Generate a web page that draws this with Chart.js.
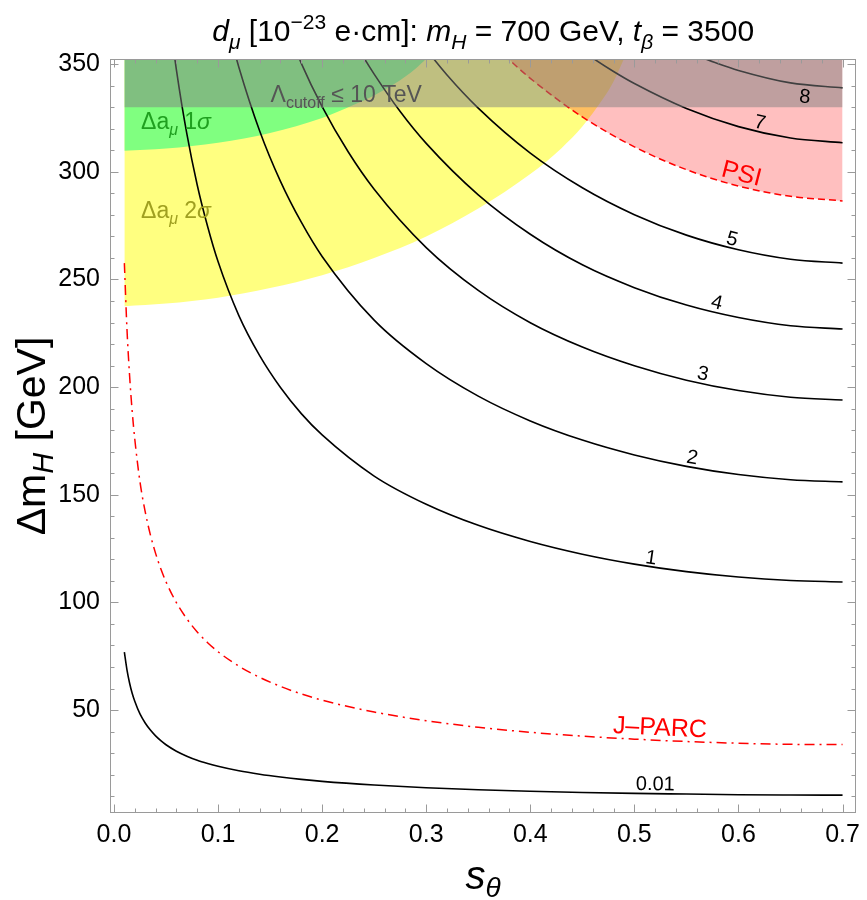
<!DOCTYPE html>
<html lang="en">
<head>
<meta charset="UTF-8">
<title>d_mu contours</title>
<script src="https://cdn.jsdelivr.net/npm/chart.js"></script>
<style>
  html, body { margin: 0; padding: 0; background: #fff; }
  #wrap { width: 867px; height: 900px; }
</style>
</head>
<body>
<div id="wrap"><canvas id="chart" width="867" height="900"></canvas></div>
<script>
// contour d_mu = 0.01
const s001 = [0.01,0.0125,0.015,0.0175,0.02,0.025,0.03,0.035,0.04,0.045,0.05,0.06,0.07,0.08,0.09,0.10,0.12,0.14,0.16,0.18,0.20,0.25,0.30,0.35,0.40,0.45,0.50,0.55,0.60,0.65,0.70];
const dm001 = [76.9,68.7,62.6,57.8,54.1,48.2,44.0,40.7,38.0,35.8,33.9,30.9,28.6,26.7,25.2,23.9,21.8,20.2,18.9,17.8,16.9,15.2,13.9,13.0,12.3,11.7,11.3,11.0,10.7,10.56,10.5];

// J-PARC reach (dash-dot)
const sJparc = [0.01,0.0125,0.015,0.0175,0.02,0.025,0.03,0.035,0.04,0.045,0.05,0.06,0.07,0.08,0.09,0.10,0.12,0.14,0.16,0.18,0.20,0.25,0.30,0.35,0.40,0.45,0.50,0.55,0.60,0.65,0.70];
const dmJparc = [257.6,227,205.5,188.9,175.9,156,142.2,131.4,122.8,115.6,109.6,99.9,92.4,86.3,81.3,77.1,70.4,65.2,61.0,57.5,54.6,49.1,45.1,42.0,39.7,37.9,36.5,35.4,34.6,34.1,34.0];

// contours 1..5, 7, 8
const s1 = [0.05,0.055,0.06,0.07,0.08,0.09,0.10,0.12,0.14,0.16,0.18,0.20,0.25,0.30,0.35,0.40,0.45,0.50,0.55,0.60,0.65,0.70];
const dm1 = [386.3,365.5,347.4,317.7,293.9,274.6,258.3,233.2,214.6,199.8,187.7,177.8,158.7,145.6,135.8,128.3,122.4,117.8,114.3,111.8,110.2,109.5];
const s2 = [0.11,0.12,0.14,0.16,0.18,0.20,0.25,0.30,0.35,0.40,0.45,0.50,0.55,0.60,0.65,0.70];
const dm2 = [366.5,348.6,319.0,295.6,276.6,260.7,231.1,210.9,195.8,184.3,175.4,168.5,163.2,159.4,157.0,156];
const s3 = [0.16,0.18,0.20,0.225,0.25,0.30,0.35,0.40,0.45,0.50,0.55,0.60,0.65,0.70];
const dm3 = [374.6,350.4,330.3,309.3,291.9,264.8,244.9,229.9,218.6,209.9,203.2,198.4,195.3,194];
const s4 = [0.22,0.24,0.25,0.275,0.30,0.35,0.40,0.45,0.50,0.55,0.60,0.65,0.70];
const dm4 = [370.5,353.1,345.4,328.0,313.2,289.3,271.0,256.8,246.2,238.1,232.3,228.5,227];
const s5 = [0.28,0.30,0.32,0.35,0.40,0.45,0.50,0.55,0.60,0.65,0.70];
const dm5 = [370.1,356.9,345.0,329.6,308.7,292.6,280.1,270.6,263.8,259.4,257.6];
const s7 = [0.45,0.46,0.48,0.50,0.55,0.60,0.65,0.70];
const dm7 = [356.2,352.8,346.6,341.0,329.4,321.0,315.7,313.5];
const s8 = [0.56,0.58,0.60,0.65,0.70];
const dm8 = [354.0,350.3,347.1,341.3,339.0];

// PSI reach (dashed, shaded above)
const sPsi = [0.36,0.38,0.40,0.45,0.50,0.55,0.60,0.65,0.70];
const dmPsi = [361.5,352.0,343.4,325.5,311.6,301.0,293.4,288.6,286.5];

// Delta a_mu bands: lower edges
const s2sig = [0.01,0.05,0.10,0.15,0.20,0.25,0.30,0.35,0.40,0.43,0.45,0.47,0.48,0.49];
const dm2sig = [237.6,238.8,241.5,246,252,260,270,283,299,311,321,334,342,352.5];
const s1sig = [0.01,0.05,0.10,0.15,0.20,0.23,0.25,0.27,0.29,0.30];
const dm1sig = [309.8,310.8,313.5,318,325,331,335.5,341,348,352.5];

// Lambda_cutoff <= 10 TeV band
const sCut = [0.01,0.70];
const dmCut = [330,330];

// ticks
const xMajor = [0,0.1,0.2,0.3,0.4,0.5,0.6,0.7];
const yMajor = [50,100,150,200,250,300,350];

const FAM = "'Liberation Sans', Arial, sans-serif";
const pts = (xs, ys) => xs.map((x, i) => ({x, y: ys[i]}));

function contour(label, xs, ys) {
    return { label, data: pts(xs, ys), borderColor: '#000', borderWidth: 1.6, pointRadius: 0,
             fill: false, cubicInterpolationMode: 'monotone', order: 10 };
}
function band(label, xs, ys, color, order) {
    return { label, data: pts(xs, ys), borderColor: 'rgba(0,0,0,0)', borderWidth: 0, pointRadius: 0,
             backgroundColor: color, fill: 'end', cubicInterpolationMode: 'monotone', order };
}

const datasets = [
    band('2sigma', s2sig, dm2sig, '#ffff80', 30),
    band('1sigma', s1sig, dm1sig, '#80ff80', 29),
    { label: 'PSI', data: pts(sPsi, dmPsi), borderColor: '#ff0000', borderWidth: 1.5, borderDash: [7, 4],
      backgroundColor: 'rgba(255,0,0,0.25)', fill: 'end', pointRadius: 0, cubicInterpolationMode: 'monotone', order: 20 },
    contour('0.01', s001, dm001),
    contour('1', s1, dm1),
    contour('2', s2, dm2),
    contour('3', s3, dm3),
    contour('4', s4, dm4),
    contour('5', s5, dm5),
    contour('7', s7, dm7),
    contour('8', s8, dm8),
    { label: 'J-PARC', data: pts(sJparc, dmJparc), borderColor: '#ff0000', borderWidth: 1.5, borderDash: [10, 5, 2, 5],
      fill: false, pointRadius: 0, cubicInterpolationMode: 'monotone', order: 10 },
    band('cutoff', sCut, dmCut, 'rgba(128,128,128,0.5)', 1)
];

// labels sitting on curves: [text, xs, ys, s, dy, size, color]
const curveLabels = [
    ['0.01', s001, dm001, 0.52, -9, 20, '#000'],
    ['1', s1, dm1, 0.515, -8, 20, '#000'],
    ['2', s2, dm2, 0.554, -9, 20, '#000'],
    ['3', s3, dm3, 0.564, -9, 20, '#000'],
    ['4', s4, dm4, 0.577, -9, 20, '#000'],
    ['5', s5, dm5, 0.592, -8, 20, '#000'],
    ['7', s7, dm7, 0.619, -8, 20, '#000'],
    ['8', s8, dm8, 0.665, 13, 20, '#000'],
    ['PSI', sPsi, dmPsi, 0.6, -12, 25, '#ff0000'],
    ['J\u2013PARC', sJparc, dmJparc, 0.524, -12, 25, '#ff0000']
];

function interp(xs, ys, s) {
    for (let i = 1; i < xs.length; i++) {
        if (s <= xs[i]) {
            const t = (s - xs[i - 1]) / (xs[i] - xs[i - 1]);
            return ys[i - 1] + t * (ys[i] - ys[i - 1]);
        }
    }
    return ys[ys.length - 1];
}

// text with italic / sub / superscript parts
function drawRich(ctx, parts, x, y, size, align, subShift = 0.25) {
    const spec = k => {
        const small = k.includes('sub') || k.includes('sup');
        const it = k.startsWith('i');
        return { font: (it ? 'italic ' : '') + (small ? Math.round(size * 0.7) : size) + 'px ' + FAM,
                 dy: k.includes('sub') ? size * subShift : k.includes('sup') ? -size * 0.4 : 0 };
    };
    let w = 0;
    parts.forEach(p => { ctx.font = spec(p[1]).font; w += ctx.measureText(p[0]).width; });
    let cx = align === 'center' ? x - w / 2 : align === 'right' ? x - w : x;
    ctx.textAlign = 'left';
    parts.forEach(p => {
        const sp = spec(p[1]);
        ctx.font = sp.font;
        ctx.fillText(p[0], cx, y + sp.dy);
        cx += ctx.measureText(p[0]).width;
    });
}

const decor = {
    id: 'decor',
    afterDatasetsDraw(chart) {
        const { ctx, scales: { x, y } } = chart;
        ctx.save();
        // region labels
        ctx.textBaseline = 'alphabetic';
        ctx.fillStyle = '#555';
        drawRich(ctx, [['\u039B', 'n'], ['cutoff', 'sub'], [' \u2264 10 TeV', 'n']], x.getPixelForValue(0.1505), y.getPixelForValue(332.4), 23, 'left');
        ctx.fillStyle = '#1fa01f';
        drawRich(ctx, [['\u0394a', 'n'], ['\u03BC', 'isub'], [' 1', 'n'], ['\u03C3', 'i']], x.getPixelForValue(0.026), y.getPixelForValue(320), 23, 'left');
        ctx.fillStyle = '#a0a020';
        drawRich(ctx, [['\u0394a', 'n'], ['\u03BC', 'isub'], [' 2', 'n'], ['\u03C3', 'i']], x.getPixelForValue(0.026), y.getPixelForValue(278.5), 23, 'left');

        // contour labels, turned along the curve
        curveLabels.forEach(([text, xs, ys, s, dy, size, color]) => {
            const px = x.getPixelForValue(s), py = y.getPixelForValue(interp(xs, ys, s));
            const ax = x.getPixelForValue(s - 0.015), ay = y.getPixelForValue(interp(xs, ys, s - 0.015));
            const bx = x.getPixelForValue(s + 0.015), by = y.getPixelForValue(interp(xs, ys, Math.min(s + 0.015, 0.7)));
            const ang = Math.atan2(by - ay, bx - ax);
            ctx.save();
            ctx.translate(px, py);
            ctx.rotate(ang);
            ctx.fillStyle = color;
            ctx.font = size + 'px ' + FAM;
            ctx.textAlign = 'center';
            ctx.textBaseline = 'middle';
            ctx.fillText(text, 0, dy);
            ctx.restore();
        });
        ctx.restore();
    },
    afterDraw(chart) {
        const { ctx, chartArea: a, scales: { x, y } } = chart;
        ctx.save();
        ctx.strokeStyle = '#9a9a9a';
        ctx.lineWidth = 1;
        const L = Math.round(a.left) + 0.5, R = Math.round(a.right) - 0.5;
        const T = Math.round(a.top) + 0.5, B = Math.round(a.bottom) - 0.5;
        ctx.strokeRect(L, T, R - L, B - T);
        ctx.beginPath();
        for (let i = 0; i <= 35; i++) {
            const v = i * 0.02, len = (i % 5 === 0) ? 8 : 4;
            const px = Math.round(x.getPixelForValue(v)) + 0.5;
            ctx.moveTo(px, B); ctx.lineTo(px, B - len);
            ctx.moveTo(px, T); ctx.lineTo(px, T + len);
        }
        for (let v = 10; v <= 350; v += 10) {
            const len = (v % 50 === 0) ? 8 : 4;
            const py = Math.round(y.getPixelForValue(v)) + 0.5;
            ctx.moveTo(L, py); ctx.lineTo(L + len, py);
            ctx.moveTo(R, py); ctx.lineTo(R - len, py);
        }
        ctx.stroke();

        // titles
        ctx.fillStyle = '#000';
        ctx.textBaseline = 'alphabetic';
        const cx = (a.left + a.right) / 2;
        drawRich(ctx, [['d', 'i'], ['\u03BC', 'isub'], [' [10', 'n'], ['\u221223', 'sup'], [' e\u00B7cm]: ', 'n'],
                       ['m', 'i'], ['H', 'isub'], [' = 700 GeV, ', 'n'], ['t', 'i'], ['\u03B2', 'isub'], [' = 3500', 'n']],
                 cx, 41, 30, 'center');
        drawRich(ctx, [['s', 'i'], ['\u03B8', 'isub']], cx, 889, 40, 'center', 0.2);
        ctx.save();
        ctx.translate(45, (a.top + a.bottom) / 2);
        ctx.rotate(-Math.PI / 2);
        drawRich(ctx, [['\u0394m', 'n'], ['H', 'isub'], [' [GeV]', 'n']], 0, 0, 41, 'center', 0.2);
        ctx.restore();
        ctx.restore();
    }
};

new Chart(document.getElementById('chart'), {
    type: 'line',
    data: { datasets },
    plugins: [decor],
    options: {
        responsive: false,
        animation: false,
        devicePixelRatio: 1,
        layout: { padding: { top: 59, right: 4, left: 0, bottom: 0 } },
        plugins: { legend: { display: false }, tooltip: { enabled: false }, title: { display: false } },
        scales: {
            x: {
                type: 'linear', min: -0.0038, max: 0.7133,
                grid: { display: false, drawTicks: false }, border: { display: false },
                afterBuildTicks: sc => { sc.ticks = xMajor.map(v => ({ value: v })); },
                afterFit: sc => { sc.height = 87; },
                ticks: { padding: 7, color: '#000', font: { family: FAM, size: 25 }, maxRotation: 0,
                         autoSkip: false, callback: v => v.toFixed(1) }
            },
            y: {
                type: 'linear', min: 2.2, max: 352.4,
                grid: { display: false, drawTicks: false }, border: { display: false },
                afterBuildTicks: sc => { sc.ticks = yMajor.map(v => ({ value: v })); },
                afterFit: sc => { sc.width = 110; },
                ticks: { padding: 10, color: '#000', font: { family: FAM, size: 25 }, autoSkip: false,
                         callback: v => String(v) }
            }
        }
    }
});
</script>
</body>
</html>
